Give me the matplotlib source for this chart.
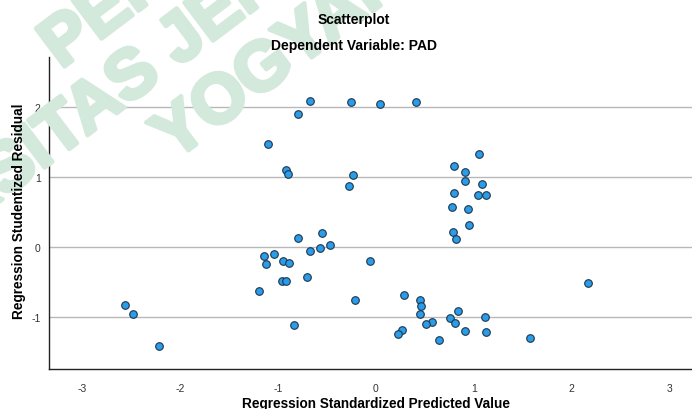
import numpy as np
from matplotlib import pyplot as plt
from matplotlib import patheffects

plt.rcParams['font.family'] = ['Liberation Sans', 'DejaVu Sans']
plt.rcParams['axes.unicode_minus'] = False

# standardized predicted value (x) and studentized residual (y)
pred = [
    -0.677, -0.797, -1.096, -0.922, -0.892, -0.252, -0.276,
    0.041, 0.405, 1.055, 0.794, 0.906, 0.913, 1.083, 0.800, 1.042, 1.124, -0.232,
    0.776, 0.940, 0.953, 0.790, 0.814, -0.061, 2.162, -0.214, 0.283, 0.453,
    0.463, 0.449, 0.841, 0.756, 1.113, 0.575, 0.511, 0.807, 0.272, 0.225,
    0.909, 1.120, 0.647, 1.576,
    -0.797, -0.552, -0.565, -0.470, -0.677, -1.141, -1.039, -1.117, -0.943,
    -0.889, -0.963, -0.919, -0.702, -1.198, -0.831, -2.557, -2.475, -2.213,
]
resid = [
    2.09, 1.90, 1.47, 1.11, 1.05, 2.07, 0.87,
    2.05, 2.08, 1.34, 1.16, 1.07, 0.95, 0.90, 0.78, 0.75, 0.75, 1.04,
    0.576, 0.55, 0.32, 0.22, 0.12, -0.196, -0.515, -0.757, -0.68, -0.76,
    -0.84, -0.95, -0.905, -1.005, -1.00, -1.067, -1.096, -1.086, -1.18, -1.24,
    -1.196, -1.21, -1.33, -1.30,
    0.133, 0.204, -0.01, 0.037, -0.053, -0.12, -0.09, -0.24, -0.20,
    -0.22, -0.477, -0.48, -0.43, -0.624, -1.105, -0.824, -0.953, -1.41,
]

x_ticks = [-3, -2, -1, 0, 1, 2, 3]
y_ticks = [-1, 0, 1, 2]

fig = plt.figure(figsize=(6.92, 4.10), dpi=100)

# watermark
wm_color = '#d3e9db'
wm = dict(fontsize=50, fontweight='bold', color=wm_color, rotation=37,
          rotation_mode='anchor', va='center', zorder=0,
          path_effects=[patheffects.withStroke(linewidth=3, foreground=wm_color)])
fig.text(50 / 692, 1 - 56 / 410, "PERPUSTAKAAN", ha='left', **wm)
fig.text(-7 / 692, 1 - 185 / 410, "SITAS JENDERAL", ha='left', **wm)
fig.text(-7 / 692, 1 - 185 / 410, "UNIVER", ha='right', **wm)
fig.text(163 / 692, 1 - 148 / 410, "YOGYAKARTA", ha='left', **wm)

ax = fig.add_axes([49 / 692, 40 / 410, 1 - 49 / 692, 312 / 410])
ax.patch.set_alpha(0)

ax.scatter(pred, resid, s=30, c='#2a9de6', edgecolors='#1c3550',
           linewidths=0.8, zorder=3)

ax.set_xlim(-3.337, 3.228)
ax.set_ylim(-1.739, 2.719)
ax.set_xticks(x_ticks)
ax.set_yticks(y_ticks)
ax.tick_params(length=0, labelsize=7.5, labelcolor='#333333')
ax.tick_params(axis='x', pad=10)
ax.tick_params(axis='y', pad=6)

ax.yaxis.grid(True, color='#b8b8b8', linewidth=1.0)
ax.set_axisbelow(True)

for side in ('top', 'right'):
    ax.spines[side].set_visible(False)
for side in ('left', 'bottom'):
    ax.spines[side].set_color('#222222')
    ax.spines[side].set_linewidth(1.0)

fig.text(354 / 692, 1 - 20 / 410, "Scatterplot", ha='center', va='center',
         fontsize=10, fontweight='bold')
fig.text(354 / 692, 1 - 46 / 410, "Dependent Variable: PAD", ha='center',
         va='center', fontsize=10, fontweight='bold')

fig.text(19 / 692, 1 - 211 / 410, "Regression Studentized Residual",
         ha='center', va='center', rotation=90, fontsize=9.8, fontweight='bold')
fig.text(376 / 692, 1 - 404 / 410, "Regression Standardized Predicted Value",
         ha='center', va='center', fontsize=9.8, fontweight='bold')

fig.savefig("out.png", dpi=100)
